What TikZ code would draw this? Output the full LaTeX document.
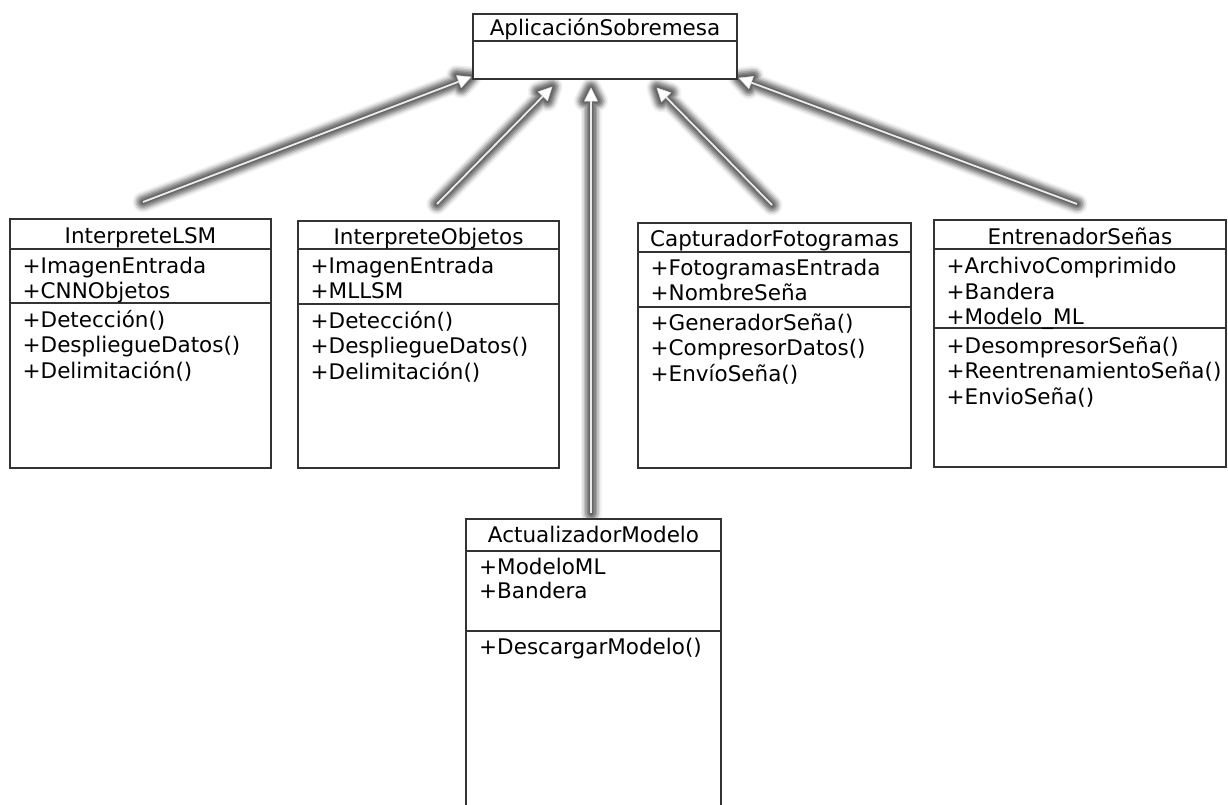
\documentclass[tikz,border=0pt]{standalone}
\usepackage{fontspec}
\setmainfont{DejaVu Sans}
\usetikzlibrary{calc}
\tikzset{
  classbox/.style={draw=black!80, fill=white, line width=1.4pt, anchor=north west, inner sep=0pt, outer sep=0pt},
  divline/.style={draw=black!80, line width=1.4pt},
  title/.style={anchor=base, inner sep=0pt, text=black},
  attr/.style={anchor=base west, inner sep=0pt, text=black},
}
\newcommand{\glowarrow}[2]{%
  \path (#2) coordinate (gaT) ($(#2)!13pt!(#1)$) coordinate (gaB);
  \path ($(gaB)!6.5pt!90:(#2)$) coordinate (gaL) ($(gaB)!6.5pt!-90:(#2)$) coordinate (gaR);
  \foreach \w/\c in {21/black!5, 18/black!13, 15/black!24, 12/black!36, 9/black!47, 6/black!55, 4/black!60}{%
    \draw[line width=\w pt, draw=\c, line cap=round, line join=round] (#1) -- (gaB);
    \filldraw[line width=\w pt, draw=\c, fill=\c, line join=round] (gaT) -- (gaL) -- (gaR) -- cycle;
  }%
  \draw[black!8, line width=1.8pt] (#1) -- (gaB);
  \filldraw[fill=white, draw=black!12, line width=0.5pt, line join=miter] (gaT) -- (gaL) -- (gaR) -- cycle;
}
\begin{document}
\begin{tikzpicture}[x=1pt, y=-1pt, font=\fontsize{21.5}{25}\selectfont]
\clip (0,0) rectangle (1228,804);
\fill[white] (0,0) rectangle (1228,804);

% arrow end points
\coordinate (t1) at (143,202);  \coordinate (h1) at (471,77);
\coordinate (t2) at (437,204);  \coordinate (h2) at (552,87);
\coordinate (t3) at (591,513);  \coordinate (h3) at (591,88);
\coordinate (t4) at (772,205);  \coordinate (h4) at (657,88);
\coordinate (t5) at (1077,204); \coordinate (h5) at (739,78);

\glowarrow{t1}{h1}
\glowarrow{t2}{h2}
\glowarrow{t3}{h3}
\glowarrow{t4}{h4}
\glowarrow{t5}{h5}

% AplicacionSobremesa
\node[classbox, minimum width=264pt, minimum height=65pt] (app) at (473,14) {};
\draw[divline] (473,41) -- (737,41);
\node[title] (appT) at (605,35) {AplicaciónSobremesa};

% InterpreteLSM
\node[classbox, minimum width=261pt, minimum height=249pt] (lsm) at (10,219) {};
\draw[divline] (10,249) -- (271,249);
\draw[divline] (10,303) -- (271,303);
\node[title] (lsmT) at (140.5,243) {InterpreteLSM};
\node[attr] (lsmA1) at (22.5,273) {+ImagenEntrada};
\node[attr] (lsmA2) at (22.5,298.5) {+CNNObjetos};
\node[attr] (lsmM1) at (22.5,327) {+Detección()};
\node[attr] (lsmM2) at (22.5,352.5) {+DespliegueDatos()};
\node[attr] (lsmM3) at (22.5,378) {+Delimitación()};

% InterpreteObjetos
\node[classbox, minimum width=261pt, minimum height=247pt] (obj) at (298,221) {};
\draw[divline] (298,249) -- (559,249);
\draw[divline] (298,304) -- (559,304);
\node[title] (objT) at (428.5,244) {InterpreteObjetos};
\node[attr] (objA1) at (310.5,273) {+ImagenEntrada};
\node[attr] (objA2) at (310.5,298.5) {+MLLSM};
\node[attr] (objM1) at (310.5,328) {+Detección()};
\node[attr] (objM2) at (310.5,353.5) {+DespliegueDatos()};
\node[attr] (objM3) at (310.5,379) {+Delimitación()};

% CapturadorFotogramas
\node[classbox, minimum width=273pt, minimum height=245pt] (cap) at (638,223) {};
\draw[divline] (638,252) -- (911,252);
\draw[divline] (638,307) -- (911,307);
\node[title] (capT) at (774.5,246) {CapturadorFotogramas};
\node[attr] (capA1) at (650.5,275) {+FotogramasEntrada};
\node[attr] (capA2) at (650.5,300.5) {+NombreSeña};
\node[attr] (capM1) at (650.5,330) {+GeneradorSeña()};
\node[attr] (capM2) at (650.5,355.5) {+CompresorDatos()};
\node[attr] (capM3) at (650.5,381) {+EnvíoSeña()};

% EntrenadorSenas
\node[classbox, minimum width=292pt, minimum height=247pt] (ent) at (934,220) {};
\draw[divline] (934,249) -- (1226,249);
\draw[divline] (934,328) -- (1226,328);
\node[title] (entT) at (1080,244) {EntrenadorSeñas};
\node[attr] (entA1) at (946.5,273.5) {+ArchivoComprimido};
\node[attr] (entA2) at (946.5,299) {+Bandera};
\node[attr] (entA3) at (946.5,324.5) {+Modelo\_ML};
\node[attr] (entM1) at (946.5,353) {+DesompresorSeña()};
\node[attr] (entM2) at (946.5,378.5) {+ReentrenamientoSeña()};
\node[attr] (entM3) at (946.5,404) {+EnvioSeña()};

% ActualizadorModelo
\node[classbox, minimum width=255pt, minimum height=300pt] (act) at (466,519) {};
\draw[divline] (466,551) -- (721,551);
\draw[divline] (466,631) -- (721,631);
\node[title] (actT) at (593.5,542) {ActualizadorModelo};
\node[attr] (actA1) at (479,574) {+ModeloML};
\node[attr] (actA2) at (479,598) {+Bandera};
\node[attr] (actM1) at (479,654) {+DescargarModelo()};
\end{tikzpicture}
\end{document}
